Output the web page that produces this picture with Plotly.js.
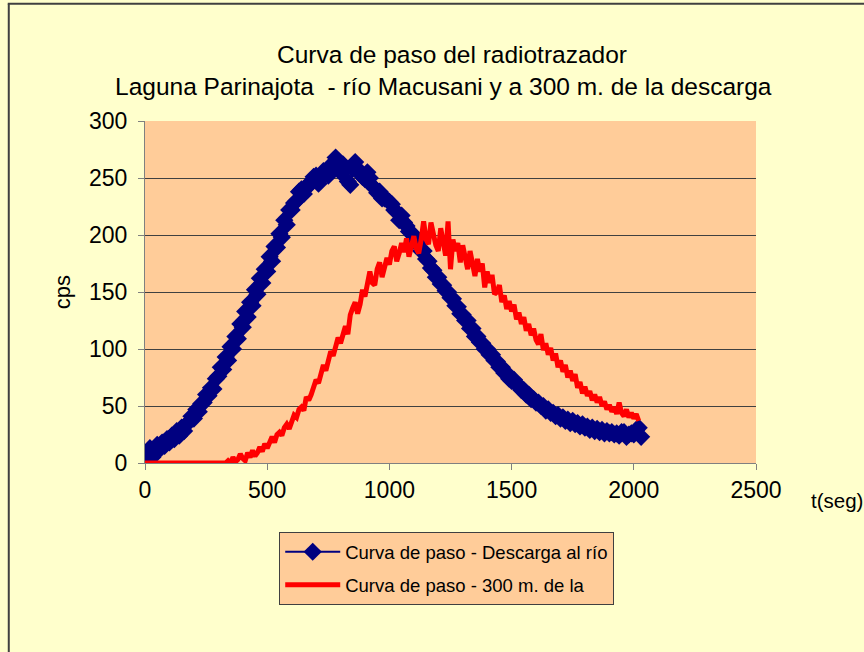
<!DOCTYPE html>
<html>
<head>
<meta charset="utf-8">
<script src="https://cdn.plot.ly/plotly-3.0.1.min.js"></script>
<style>html,body{margin:0;padding:0;background:#FFFFCC;}#chart{width:864px;height:652px;}</style>
</head>
<body>
<div id="chart"></div>
<script>
const blueT = [0,10,20,30,40,50,60,70,80,90,100,110,120,130,140,150,160,170,180,190,200,210,220,230,240,250,260,270,280,290,300,310,320,330,340,350,360,370,380,390,400,410,420,430,440,450,460,470,480,490,500,510,520,530,540,550,560,570,580,590,600,610,620,630,640,650,660,670,680,690,700,710,720,730,740,750,760,770,780,790,800,810,820,830,840,850,860,870,880,890,900,910,920,930,940,950,960,970,980,990,1000,1010,1020,1030,1040,1050,1060,1070,1080,1090,1100,1110,1120,1130,1140,1150,1160,1170,1180,1190,1200,1210,1220,1230,1240,1250,1260,1270,1280,1290,1300,1310,1320,1330,1340,1350,1360,1370,1380,1390,1400,1410,1420,1430,1440,1450,1460,1470,1480,1490,1500,1510,1520,1530,1540,1550,1560,1570,1580,1590,1600,1610,1620,1630,1640,1650,1660,1670,1680,1690,1700,1710,1720,1730,1740,1750,1760,1770,1780,1790,1800,1810,1820,1830,1840,1850,1860,1870,1880,1890,1900,1910,1920,1930,1940,1950,1960,1970,1980,1990,2000,2010,2020,2030];
const blueV = [
  4,9,13,5,10,16,12,18,15,21,
  18,24,21,28,24,31,28,34,36,41,
  39,47,45,52,53,60,59,66,65,74,
  76,84,82,93,90,102,100,111,109,122,
  119,133,128,141,138,152,148,162,158,170,
  168,181,177,190,189,201,198,213,209,222,
  222,228,230,238,240,236,241,245,246,251,
  252,245,250,256,256,252,261,263,268,262,
  255,262,258,247,244,258,264,257,256,251,
  249,255,250,243,241,237,238,232,232,231,
  229,227,222,220,213,217,211,208,203,202,
  199,193,192,186,186,179,177,171,169,163,
  163,157,156,151,150,145,144,138,137,131,
  130,125,125,118,118,111,111,106,105,100,
  100,95,95,90,89,84,84,79,79,74,
  72,73,69,68,64,64,60,60,56,56,
  53,53,50,50,46,47,44,44,41,42,
  39,40,37,38,35,37,34,35,32,34,
  31,32,29,31,28,30,27,29,26,28,
  26,27,25,26,24,27,27,23,25,26,
  25,29,31,23];
const redT = [0,10,20,30,40,50,60,70,80,90,100,110,120,130,140,150,160,170,180,190,200,210,220,230,240,250,260,270,280,290,300,310,320,330,340,350,360,370,380,390,400,410,420,430,440,450,460,470,480,490,500,510,520,530,540,550,560,570,580,590,600,610,620,630,640,650,660,670,680,690,700,710,720,730,740,750,760,770,780,790,800,810,820,830,840,850,860,870,880,890,900,910,920,930,940,950,960,970,980,990,1000,1010,1020,1030,1040,1050,1060,1070,1080,1090,1100,1110,1120,1130,1140,1150,1160,1170,1180,1190,1200,1210,1220,1230,1240,1250,1260,1270,1280,1290,1300,1310,1320,1330,1340,1350,1360,1370,1380,1390,1400,1410,1420,1430,1440,1450,1460,1470,1480,1490,1500,1510,1520,1530,1540,1550,1560,1570,1580,1590,1600,1610,1620,1630,1640,1650,1660,1670,1680,1690,1700,1710,1720,1730,1740,1750,1760,1770,1780,1790,1800,1810,1820,1830,1840,1850,1860,1870,1880,1890,1900,1910,1920,1930,1940,1950,1960,1970,1980,1990,2000,2010,2020];
const redV = [
  0,0,0,0,0,0,0,0,0,0,
  0,0,0,0,0,0,0,0,0,0,
  0,0,0,0,0,0,0,0,0,0,
  0,0,0,0,2,0,5,1,3,8,
  4,2,9,5,11,6,9,14,10,17,
  13,19,23,18,25,27,24,31,34,30,
  38,42,40,47,49,46,58,55,60,68,
  73,70,79,86,81,92,98,94,103,110,
  105,114,120,113,130,136,141,131,139,152,
  146,157,168,158,156,170,176,163,171,180,
  174,186,190,177,184,193,185,197,181,190,
  199,188,184,196,212,196,192,211,200,191,
  186,206,194,182,212,170,196,186,193,176,
  191,180,170,186,175,164,179,168,175,154,
  168,158,165,148,150,156,141,147,135,142,
  133,139,126,132,122,128,116,122,112,118,
  108,104,113,99,105,95,101,90,96,84,
  90,80,86,75,81,72,78,66,71,61,
  67,59,63,55,60,53,58,50,54,47,
  51,45,49,43,53,44,41,47,40,44,
  39,43,37];
const xTicks = [0,500,1000,1500,2000,2500];
const yTicks = [0,50,100,150,200,250,300];
const titleLine1 = "Curva de paso del radiotrazador";
const titleLine2 = "Laguna Parinajota  - río Macusani y a 300 m. de la descarga";
const name1 = "Curva de paso - Descarga al río";
const name2 = "Curva de paso - 300 m. de la";

const F = "Liberation Sans, Arial, sans-serif";
const traces = [
  {x: blueT, y: blueV, name: name1, type: 'scatter', mode: 'lines+markers',
   line: {color: '#000080', width: 2}, marker: {symbol: 'diamond', size: 14, color: '#000080'},
   legendgroup: 'a'},
  {x: redT, y: redV, name: name2, type: 'scatter', mode: 'lines',
   line: {color: '#FF0000', width: 5}, legendgroup: 'b'}
];
const layout = {
  width: 864, height: 652,
  paper_bgcolor: '#FFFFCC', plot_bgcolor: '#FFCC99',
  margin: {l: 145, r: 108, t: 121, b: 189},
  font: {family: F, color: '#000000', size: 20},
  title: {text: titleLine1, font: {family: F, size: 24.5, color: '#000'}, x: (452/864), xref: 'container', xanchor: 'center', y: 1 - 54/652, yref: 'container', yanchor: 'middle'},
  annotations: [
    {text: titleLine2, xref: 'paper', yref: 'paper', x: (443 - 145)/610, y: (463 - 88)/341, xanchor: 'center', yanchor: 'middle', showarrow: false, font: {family: F, size: 24.5, color: '#000'}},
    {text: 't(seg)', xref: 'paper', yref: 'paper', x: (808 - 145)/610, y: (463 - 500)/341, xanchor: 'left', yanchor: 'middle', showarrow: false, font: {family: F, size: 20.5, color: '#000'}}
  ],
  xaxis: {range: [0, 2500], tickvals: xTicks, ticktext: xTicks.map(String), showgrid: false, zeroline: false,
    showline: true, linecolor: '#808080', linewidth: 1, ticks: 'outside', ticklen: 6, tickcolor: '#808080',
    tickfont: {family: F, size: 23, color: '#000'}, fixedrange: true},
  yaxis: {range: [0, 300], tickvals: yTicks, ticktext: yTicks.map(String), showgrid: true, gridcolor: '#404040', gridwidth: 1,
    zeroline: false, showline: true, linecolor: '#808080', linewidth: 1, ticks: 'outside', ticklen: 6, tickcolor: '#808080',
    ticklabelstandoff: 6,
    tickfont: {family: F, size: 23, color: '#000'},
    title: {text: 'cps', font: {family: F, size: 22, color: '#000'}, standoff: 12}, fixedrange: true},
  showlegend: true,
  legend: {x: (279 - 145)/610, y: (463 - 532)/341, xanchor: 'left', yanchor: 'top', bgcolor: '#FFCC99',
    bordercolor: '#404040', borderwidth: 1, font: {family: F, size: 18.5, color: '#000'},
    traceorder: 'grouped', tracegroupgap: 6, itemwidth: 55},
  shapes: [
    {type: 'line', xref: 'paper', yref: 'paper', x0: (9 - 145)/610, x1: (9 - 145)/610, y0: (463 - 5)/341, y1: (463 - 700)/341, line: {color: '#404040', width: 2}},
    {type: 'line', xref: 'paper', yref: 'paper', x0: (8 - 145)/610, x1: (900 - 145)/610, y0: (463 - 5)/341, y1: (463 - 5)/341, line: {color: '#404040', width: 2}}
  ]
};
Plotly.newPlot('chart', traces, layout, {displayModeBar: false, staticPlot: true});
</script>
</body>
</html>
